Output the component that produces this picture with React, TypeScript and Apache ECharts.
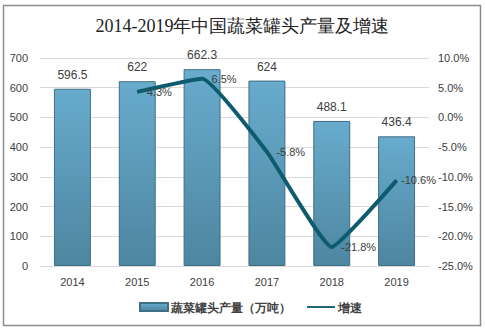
import React, { useEffect, useRef } from "react";
import * as echarts from "echarts";

const categories = ["2014", "2015", "2016", "2017", "2018", "2019"];
const production = [596.5, 622, 662.3, 624, 488.1, 436.4];
const growth = [null, 4.3, 6.5, -5.8, -21.8, -10.6];
const titleText = "2014-2019年中国蔬菜罐头产量及增速";
const barName = "蔬菜罐头产量（万吨）";
const lineName = "增速";

export default function App() {
  const ref = useRef<HTMLDivElement>(null);
  useEffect(() => {
    const chart = echarts.init(ref.current!, null, { renderer: "svg" });
    const labelFont = { fontFamily: "Liberation Sans, Arial, sans-serif", fontSize: 11, color: "#404040" };
    const lineData = growth.map((v, i) =>
      i === growth.length - 1 ? { value: v, label: { distance: 4 } } : v
    );
    chart.setOption({
      animation: false,
      graphic: [
        {
          type: "rect",
          shape: { x: 3.5, y: 5.5, width: 477, height: 320 },
          style: { fill: "none", stroke: "#8c8c8c", lineWidth: 1.5 },
          silent: true,
        },
      ],
      title: {
        text: titleText,
        left: "center",
        top: 12,
        textStyle: { fontFamily: "serif", fontSize: 18, fontWeight: "normal", color: "#222" },
      },
      legend: {
        bottom: 12,
        left: 134,
        itemGap: 16,
        itemWidth: 28,
        itemHeight: 8,
        textStyle: { fontSize: 11.7, color: "#404040", fontWeight: "bold", padding: [0, 0, 0, -2] },
        data: [
          { name: barName, icon: "rect" },
          { name: lineName, icon: "path://M0,4 L30,4 L30,6 L0,6 Z" },
        ],
      },
      grid: { left: 40, right: 56, top: 58, bottom: 64 },
      xAxis: {
        type: "category",
        data: categories,
        axisTick: { show: false },
        axisLine: { lineStyle: { color: "#d9d9d9" } },
        axisLabel: { ...labelFont, margin: 10 },
      },
      yAxis: [
        {
          type: "value",
          min: 0,
          max: 700,
          interval: 100,
          axisLabel: { ...labelFont, margin: 12 },
          splitLine: { lineStyle: { color: "#d9d9d9" } },
          axisLine: { show: false },
          axisTick: { show: false },
        },
        {
          type: "value",
          min: -25,
          max: 10,
          interval: 5,
          axisLabel: { ...labelFont, margin: 9, formatter: (v: number) => v.toFixed(1) + "%" },
          splitLine: { show: false },
          axisLine: { show: false },
          axisTick: { show: false },
        },
      ],
      series: [
        {
          name: barName,
          type: "bar",
          data: production,
          barWidth: "57%",
          itemStyle: {
            color: new echarts.graphic.LinearGradient(0, 0, 0, 1, [
              { offset: 0, color: "#68abcd" },
              { offset: 1, color: "#4d86a0" },
            ]),
            borderColor: "#3f6f85",
            borderWidth: 1,
          },
          label: { show: true, position: "top", distance: 8, ...labelFont, fontSize: 12 },
        },
        {
          name: lineName,
          type: "line",
          yAxisIndex: 1,
          data: lineData,
          smooth: 0.12,
          symbol: "circle",
          symbolSize: 1,
          showSymbol: true,
          lineStyle: { color: "#0e5a6e", width: 4 },
          itemStyle: { color: "#0e5a6e" },
          label: {
            show: true,
            position: "right",
            distance: 9,
            ...labelFont,
            fontSize: 11,
            formatter: (p: any) => Number(p.value).toFixed(1) + "%",
          },
        },
      ],
    });
    return () => chart.dispose();
  }, []);
  return <div ref={ref} style={{ width: 485, height: 330, position: "absolute", left: 0, top: 0 }} />;
}
